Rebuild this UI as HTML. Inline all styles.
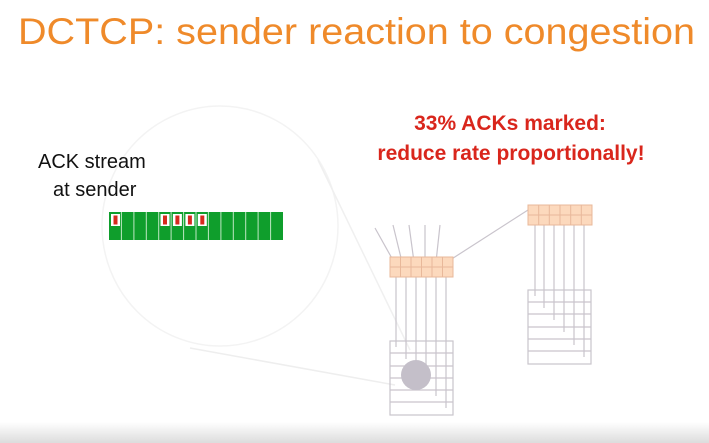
<!DOCTYPE html>
<html><head><meta charset="utf-8"><style>
html,body{margin:0;padding:0;background:#fff;}
svg{display:block;}
</style></head><body>
<svg width="709" height="443" viewBox="0 0 709 443" xmlns="http://www.w3.org/2000/svg" font-family="Liberation Sans, sans-serif">
<defs>
<linearGradient id="bot" x1="0" y1="0" x2="0" y2="1">
<stop offset="0" stop-color="#fff"/><stop offset="1" stop-color="#dcdcdc"/>
</linearGradient>
</defs>
<rect x="0" y="422" width="709" height="21" fill="url(#bot)"/>
<text x="18" y="44" font-size="37" fill="#ef8a2a" textLength="677" lengthAdjust="spacingAndGlyphs">DCTCP: sender reaction to congestion</text>

<!-- faint magnifier -->
<ellipse cx="220" cy="226" rx="118" ry="120" fill="none" stroke="#f3f3f3" stroke-width="1.5"/>
<line x1="190" y1="348" x2="395" y2="385" stroke="#eee" stroke-width="1.5"/>
<line x1="318" y1="160" x2="410" y2="350" stroke="#f0f0f0" stroke-width="1.5"/>

<text x="38" y="168" font-size="20" fill="#111">ACK stream</text>
<text x="53" y="196" font-size="20" fill="#111">at sender</text>

<text x="510" y="130" font-size="21" fill="#d9261c" text-anchor="middle" font-weight="bold">33% ACKs marked:</text>
<text x="511" y="160" font-size="21" fill="#d9261c" text-anchor="middle" font-weight="bold">reduce rate proportionally!</text>

<!-- ACK boxes -->
<g>
<rect x="109" y="212" width="174" height="28" fill="#0f9e2c"/>
<g stroke="#bfe8c4" stroke-width="1">
<line x1="121.4" y1="212" x2="121.4" y2="240"/><line x1="133.9" y1="212" x2="133.9" y2="240"/><line x1="146.3" y1="212" x2="146.3" y2="240"/><line x1="158.7" y1="212" x2="158.7" y2="240"/><line x1="171.1" y1="212" x2="171.1" y2="240"/><line x1="183.6" y1="212" x2="183.6" y2="240"/><line x1="196" y1="212" x2="196" y2="240"/><line x1="208.4" y1="212" x2="208.4" y2="240"/><line x1="220.9" y1="212" x2="220.9" y2="240"/><line x1="233.3" y1="212" x2="233.3" y2="240"/><line x1="245.7" y1="212" x2="245.7" y2="240"/><line x1="258.1" y1="212" x2="258.1" y2="240"/><line x1="270.6" y1="212" x2="270.6" y2="240"/>
</g>
<g fill="#fff"><rect x="111" y="214" width="9" height="12"/><rect x="160.5" y="214" width="9" height="12"/><rect x="172.9" y="214" width="9" height="12"/><rect x="185.4" y="214" width="9" height="12"/><rect x="197.8" y="214" width="9" height="12"/></g>
<g fill="#d62a1e"><rect x="113.5" y="215.5" width="4" height="9"/><rect x="163" y="215.5" width="4" height="9"/><rect x="175.4" y="215.5" width="4" height="9"/><rect x="187.9" y="215.5" width="4" height="9"/><rect x="200.3" y="215.5" width="4" height="9"/></g>
</g>

<g stroke="#c9c4cc" stroke-width="1.2" fill="none">
<line x1="375" y1="228" x2="394" y2="262"/><line x1="393" y1="225" x2="402" y2="262"/><line x1="409" y1="225" x2="414" y2="262"/><line x1="425" y1="225" x2="425" y2="262"/><line x1="440" y1="225" x2="436" y2="262"/>
<line x1="447" y1="262" x2="528" y2="210"/>
<rect x="390" y="341" width="63" height="74"/>
<line x1="390" y1="353" x2="453" y2="353"/><line x1="390" y1="366" x2="453" y2="366"/><line x1="390" y1="378" x2="453" y2="378"/><line x1="390" y1="390" x2="453" y2="390"/><line x1="390" y1="402" x2="453" y2="402"/>
<line x1="396" y1="276" x2="396" y2="347"/><line x1="406" y1="276" x2="406" y2="359"/><line x1="416" y1="276" x2="416" y2="372"/><line x1="426" y1="276" x2="426" y2="384"/><line x1="436" y1="276" x2="436" y2="396"/><line x1="446" y1="276" x2="446" y2="408"/>
<rect x="528" y="290" width="63" height="74"/>
<line x1="528" y1="302" x2="591" y2="302"/><line x1="528" y1="314" x2="591" y2="314"/><line x1="528" y1="327" x2="591" y2="327"/><line x1="528" y1="339" x2="591" y2="339"/><line x1="528" y1="351" x2="591" y2="351"/>
<line x1="535" y1="224" x2="535" y2="296"/><line x1="544" y1="224" x2="544" y2="308"/><line x1="554" y1="224" x2="554" y2="320"/><line x1="564" y1="224" x2="564" y2="332"/><line x1="574" y1="224" x2="574" y2="345"/><line x1="584" y1="224" x2="584" y2="357"/>
</g>
<circle cx="416" cy="375" r="15" fill="#c4bfc9"/>

<g stroke="#e8b89a" stroke-width="1">
<rect x="390" y="257" width="63" height="20" fill="#fcd9bd"/>
<line x1="390" y1="267" x2="453" y2="267"/>
<line x1="400.5" y1="257" x2="400.5" y2="277"/><line x1="411" y1="257" x2="411" y2="277"/><line x1="421.5" y1="257" x2="421.5" y2="277"/><line x1="432" y1="257" x2="432" y2="277"/><line x1="442.5" y1="257" x2="442.5" y2="277"/>
<rect x="528" y="205" width="64" height="20" fill="#fcd9bd"/>
<line x1="528" y1="215" x2="592" y2="215"/>
<line x1="538.7" y1="205" x2="538.7" y2="225"/><line x1="549.3" y1="205" x2="549.3" y2="225"/><line x1="560" y1="205" x2="560" y2="225"/><line x1="570.7" y1="205" x2="570.7" y2="225"/><line x1="581.3" y1="205" x2="581.3" y2="225"/>
</g>
</svg>
</body></html>
